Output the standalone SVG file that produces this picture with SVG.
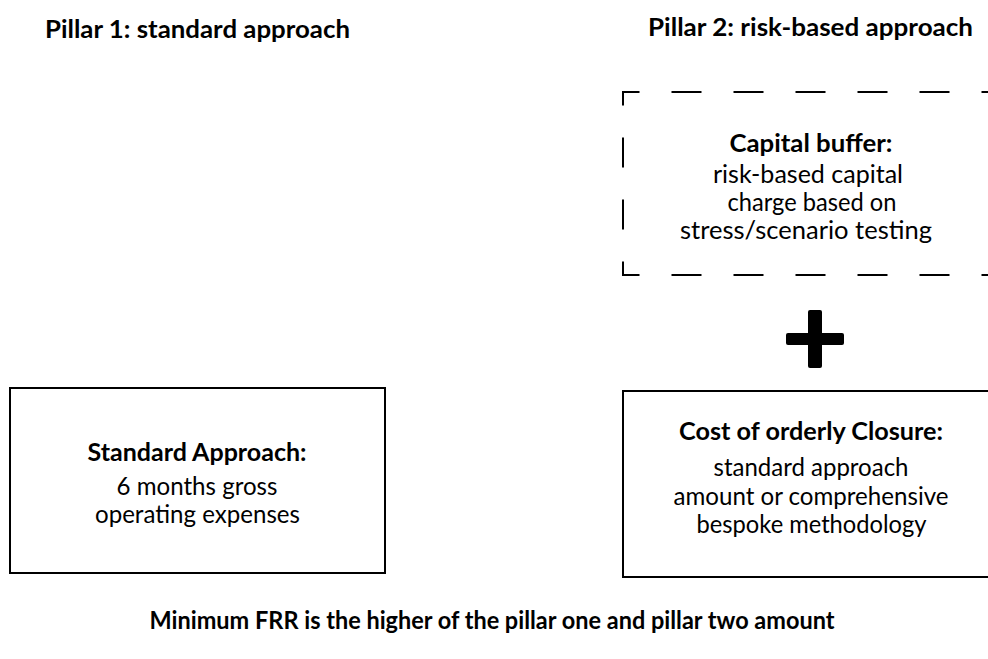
<svg xmlns="http://www.w3.org/2000/svg" width="988" height="659" viewBox="0 0 988 659">
  <style>
    .t{font-family:Lato,"Liberation Sans",sans-serif;font-size:25px;fill:#000;text-anchor:middle}
    .b{font-weight:bold;font-size:24px}
    .box{fill:none;stroke:#000;stroke-width:2}
    .dash{fill:none;stroke:#000;stroke-width:2;stroke-dasharray:30 32;stroke-dashoffset:46}
  </style>
  <rect width="988" height="659" fill="#fff"/>

  <!-- column headings -->
  <g id="heading-pillar1">
    <text class="t b" x="197.5" y="38" textLength="305" lengthAdjust="spacingAndGlyphs">Pillar 1: standard approach</text>
  </g>
  <g id="heading-pillar2">
    <text class="t b" x="810.5" y="35.5" textLength="325" lengthAdjust="spacingAndGlyphs">Pillar 2: risk-based approach</text>
  </g>

  <!-- optional capital buffer (dashed outline) -->
  <g id="capital-buffer">
    <path class="dash" d="M623,183.5 V92 H1000"/>
    <path class="dash" d="M623,183.5 V275 H1000"/>
    <text class="t b" x="811" y="151.5" textLength="163" lengthAdjust="spacingAndGlyphs">Capital buffer:</text>
    <text class="t" x="808" y="183" textLength="190" lengthAdjust="spacingAndGlyphs">risk-based capital</text>
    <text class="t" x="812" y="211" textLength="169" lengthAdjust="spacingAndGlyphs">charge based on</text>
    <text class="t" x="806" y="239" textLength="252" lengthAdjust="spacingAndGlyphs">stress/scenario testing</text>
  </g>

  <!-- plus sign joining buffer and closure cost -->
  <g id="plus">
    <rect x="808" y="310" width="14" height="58" rx="2"/>
    <rect x="786" y="333" width="58" height="12" rx="2"/>
  </g>

  <!-- pillar 1 box -->
  <g id="standard-approach">
    <rect class="box" x="10" y="388" width="375" height="185"/>
    <text class="t b" x="197" y="460.5" textLength="219" lengthAdjust="spacingAndGlyphs">Standard Approach:</text>
    <text class="t" x="197" y="495" textLength="161" lengthAdjust="spacingAndGlyphs">6 months gross</text>
    <text class="t" x="197.5" y="523" textLength="205" lengthAdjust="spacingAndGlyphs">operating expenses</text>
  </g>

  <!-- pillar 2 box -->
  <g id="orderly-closure">
    <rect class="box" x="623" y="391" width="376" height="186"/>
    <text class="t b" x="811" y="440" textLength="264" lengthAdjust="spacingAndGlyphs">Cost of orderly Closure:</text>
    <text class="t" x="811" y="476" textLength="195" lengthAdjust="spacingAndGlyphs">standard approach</text>
    <text class="t" x="811" y="505" textLength="275" lengthAdjust="spacingAndGlyphs">amount or comprehensive</text>
    <text class="t" x="811.5" y="533" textLength="230" lengthAdjust="spacingAndGlyphs">bespoke methodology</text>
  </g>

  <!-- summary line -->
  <g id="summary">
    <text class="t b" x="492" y="629" textLength="685" lengthAdjust="spacingAndGlyphs">Minimum FRR is the higher of the pillar one and pillar two amount</text>
  </g>
</svg>
